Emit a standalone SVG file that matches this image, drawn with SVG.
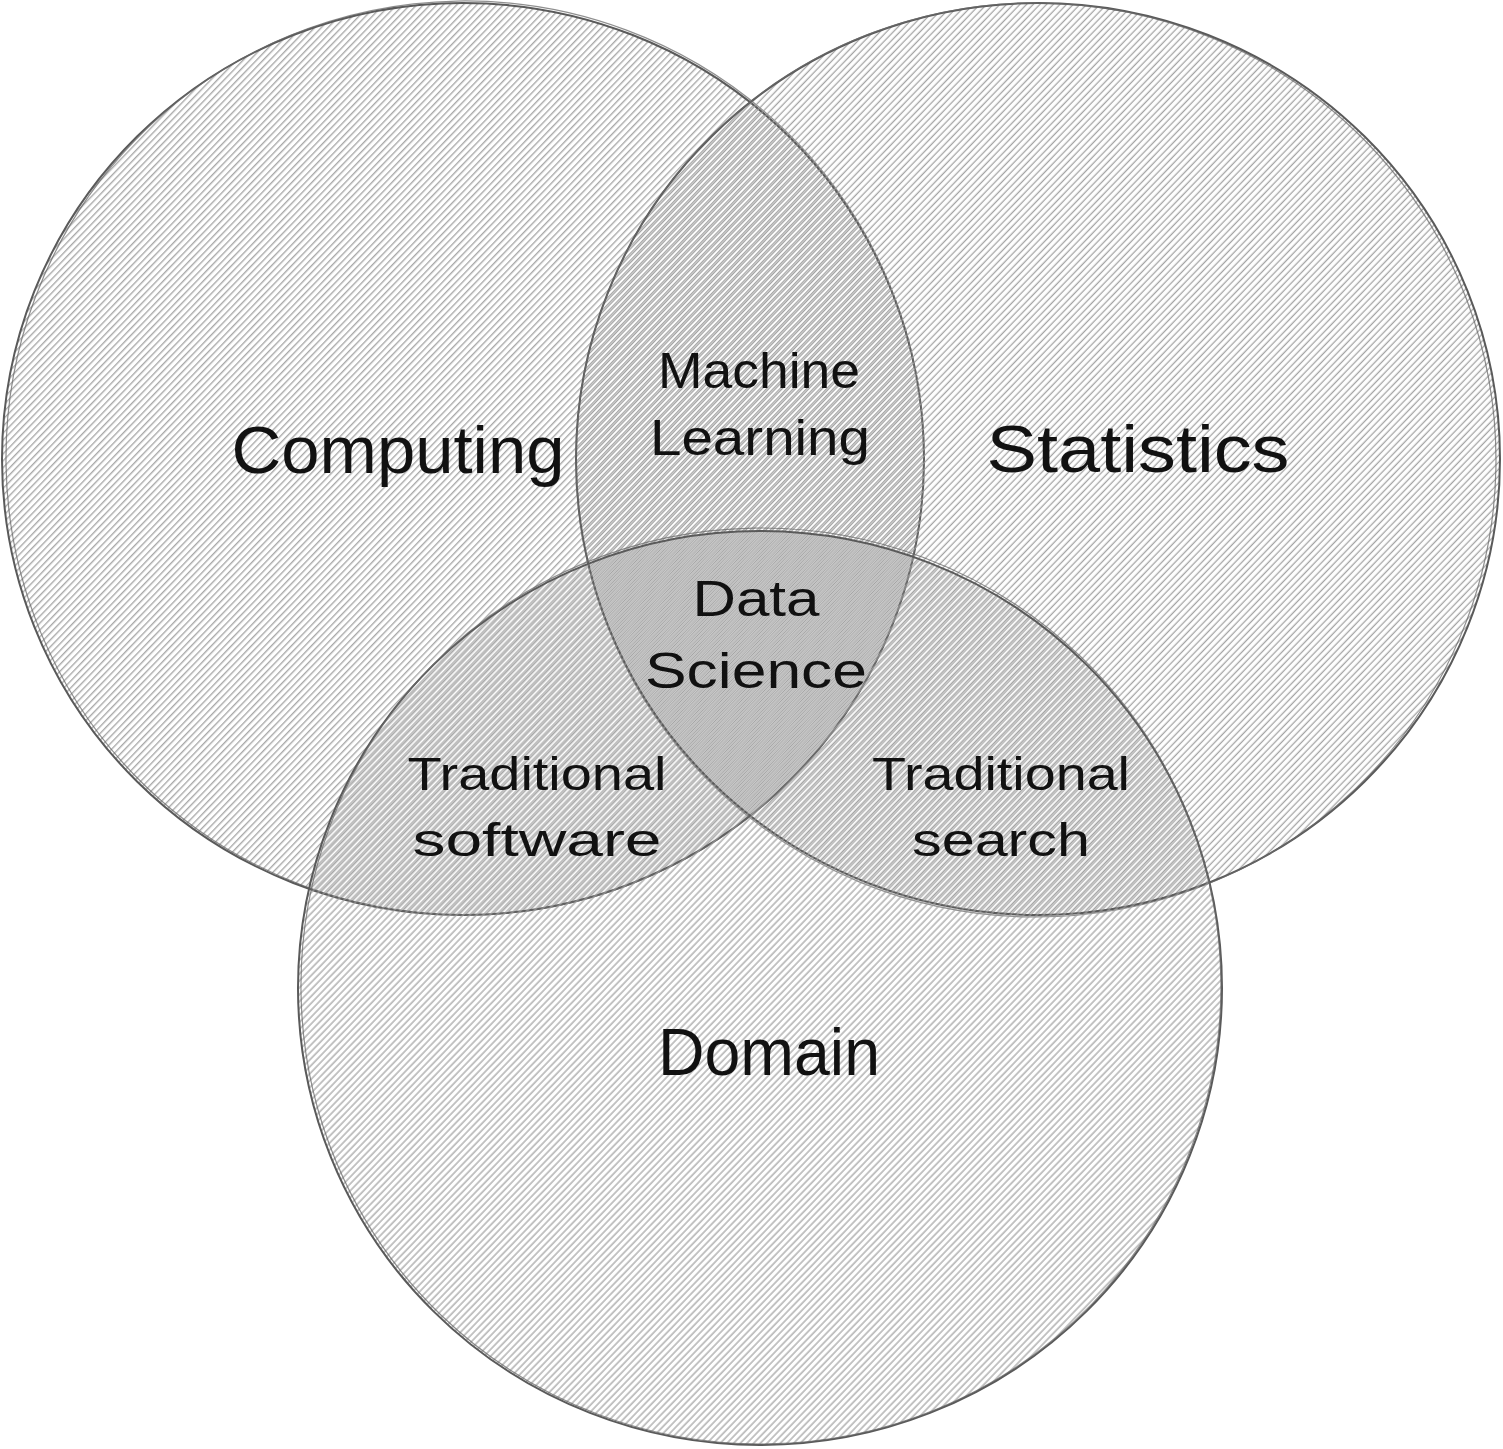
<svg xmlns="http://www.w3.org/2000/svg" width="1503" height="1449" viewBox="0 0 1503 1449">
<style>
  .outline { fill: none; stroke: #5a5a5a; stroke-width: 2; }
  .outline2 { fill: none; stroke: #6a6a6a; stroke-width: 1.2; opacity: 0.75; }
  .lbl { font-family: "Liberation Sans", "DejaVu Sans", sans-serif; fill: #111; text-anchor: middle; }
  .big { font-size: 66px; }
  .mid { font-size: 50px; }
  .sm { font-size: 46px; }
</style>
<defs>
  <pattern id="hA" width="4.8" height="20" patternUnits="userSpaceOnUse" patternTransform="rotate(44)">
    <line x1="0.7" y1="0" x2="0.7" y2="20" stroke="#9a9a9a" stroke-width="1.3"/>
  </pattern>
  <pattern id="hB" width="4.8" height="20" patternUnits="userSpaceOnUse" patternTransform="rotate(44)">
    <line x1="2.3" y1="0" x2="2.3" y2="20" stroke="#9a9a9a" stroke-width="1.3"/>
  </pattern>
  <pattern id="hC" width="4.8" height="20" patternUnits="userSpaceOnUse" patternTransform="rotate(44)">
    <line x1="3.9" y1="0" x2="3.9" y2="20" stroke="#9a9a9a" stroke-width="1.3"/>
  </pattern>
</defs>
<rect width="1503" height="1449" fill="#ffffff"/>

<g id="computing">
  <ellipse cx="463" cy="459" rx="461" ry="456" fill="url(#hA)" opacity="0.9"/>
  <ellipse class="outline" cx="463" cy="459" rx="461" ry="456"/>
  <ellipse class="outline2" cx="465" cy="458" rx="459" ry="457" transform="rotate(-1 463 459)"/>
  <text class="lbl big" x="398" y="473" textLength="333" lengthAdjust="spacingAndGlyphs">Computing</text>
</g>

<g id="statistics">
  <ellipse cx="1038" cy="459" rx="462" ry="456" fill="url(#hB)" opacity="0.9"/>
  <ellipse class="outline" cx="1038" cy="459" rx="462" ry="456"/>
  <ellipse class="outline2" cx="1036" cy="460" rx="460" ry="457" transform="rotate(1 1038 459)"/>
  <text class="lbl big" x="1138" y="472" textLength="303" lengthAdjust="spacingAndGlyphs">Statistics</text>
</g>

<g id="domain">
  <ellipse cx="760" cy="988" rx="462" ry="457" fill="url(#hC)" opacity="0.9"/>
  <ellipse class="outline" cx="760" cy="988" rx="462" ry="457"/>
  <ellipse class="outline2" cx="761" cy="986" rx="460" ry="458" transform="rotate(-1 760 988)"/>
  <text class="lbl big" x="769" y="1075" textLength="222" lengthAdjust="spacingAndGlyphs">Domain</text>
</g>

<g id="machine-learning">
  <text class="lbl mid" x="759" y="388" textLength="202" lengthAdjust="spacingAndGlyphs">Machine</text>
  <text class="lbl mid" x="760" y="455" textLength="220" lengthAdjust="spacingAndGlyphs">Learning</text>
</g>

<g id="data-science">
  <text class="lbl mid" x="756" y="616" textLength="127" lengthAdjust="spacingAndGlyphs">Data</text>
  <text class="lbl mid" x="756" y="688" textLength="222" lengthAdjust="spacingAndGlyphs">Science</text>
</g>

<g id="traditional-software">
  <text class="lbl sm" x="537" y="790" textLength="259" lengthAdjust="spacingAndGlyphs">Traditional</text>
  <text class="lbl sm" x="537" y="856" textLength="249" lengthAdjust="spacingAndGlyphs">software</text>
</g>

<g id="traditional-search">
  <text class="lbl sm" x="1001" y="790" textLength="258" lengthAdjust="spacingAndGlyphs">Traditional</text>
  <text class="lbl sm" x="1001" y="856" textLength="178" lengthAdjust="spacingAndGlyphs">search</text>
</g>

<g id="connectors"></g>
</svg>
